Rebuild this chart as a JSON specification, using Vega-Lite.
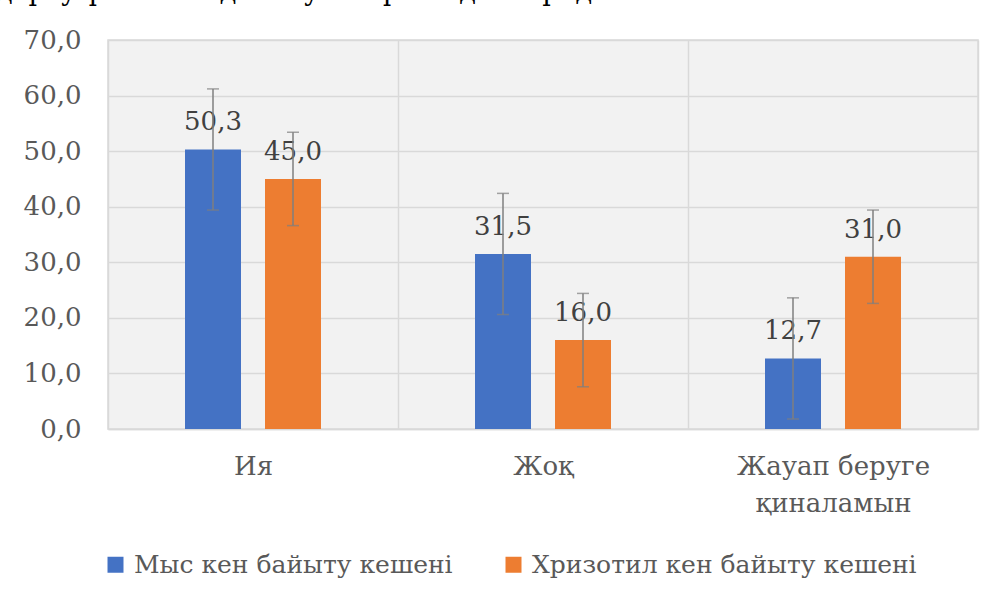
{
  "$schema": "https://vega.github.io/schema/vega-lite/v6.json",
  "width": 870,
  "height": 389,
  "autosize": {"type": "none"},
  "padding": {"left": 108, "top": 40, "right": 16, "bottom": 172},
  "background": "white",
  "title": {
    "text": "дерту үшін жандалануға мүмкіндік береді.",
    "anchor": "start",
    "frame": "group",
    "font": "DejaVu Serif",
    "fontSize": 27,
    "fontWeight": "normal",
    "color": "black",
    "baseline": "alphabetic",
    "offset": 0,
    "dx": -112,
    "dy": 0
  },
  "config": {
    "font": "DejaVu Serif",
    "locale": {"number": {"decimal": ",", "thousands": " ", "grouping": [3], "currency": ["", ""]}},
    "view": {"stroke": "#d9d9d9", "strokeWidth": 1.5, "fill": "#f2f2f2"}
  },
  "data": {
    "values": [
      {"cat": "Ия", "series": "Мыс кен байыту кешені", "value": 50.3, "lo": 39.4, "hi": 61.2},
      {"cat": "Ия", "series": "Хризотил кен байыту кешені", "value": 45.0, "lo": 36.6, "hi": 53.4},
      {"cat": "Жоқ", "series": "Мыс кен байыту кешені", "value": 31.5, "lo": 20.6, "hi": 42.4},
      {"cat": "Жоқ", "series": "Хризотил кен байыту кешені", "value": 16.0, "lo": 7.6, "hi": 24.4},
      {"cat": "Жауап беруге қиналамын", "series": "Мыс кен байыту кешені", "value": 12.7, "lo": 1.8, "hi": 23.6},
      {"cat": "Жауап беруге қиналамын", "series": "Хризотил кен байыту кешені", "value": 31.0, "lo": 22.6, "hi": 39.4}
    ]
  },
  "encoding": {
    "x": {
      "field": "cat",
      "type": "nominal",
      "sort": ["Ия", "Жоқ", "Жауап беруге қиналамын"],
      "scale": {"paddingInner": 0, "paddingOuter": 0},
      "axis": {
        "title": null,
        "labelAngle": 0,
        "labelFont": "DejaVu Serif",
        "labelFontSize": 26,
        "labelColor": "#595959",
        "labelPadding": 24,
        "labelLineHeight": 37,
        "labelLimit": 400,
        "labelExpr": "datum.label == 'Жауап беруге қиналамын' ? ['Жауап беруге', 'қиналамын'] : datum.label",
        "ticks": false,
        "tickBand": "extent",
        "grid": true,
        "gridColor": "#d9d9d9",
        "gridWidth": 1.5,
        "domain": true,
        "domainColor": "#d9d9d9",
        "domainWidth": 1.5
      }
    },
    "xOffset": {
      "field": "series",
      "type": "nominal",
      "sort": ["Мыс кен байыту кешені", "Хризотил кен байыту кешені"],
      "scale": {"paddingInner": 0.3, "paddingOuter": 0.9625}
    }
  },
  "layer": [
    {
      "mark": {"type": "bar"},
      "encoding": {
        "y": {
          "field": "value",
          "type": "quantitative",
          "scale": {"domain": [0, 70], "nice": false},
          "axis": {
            "title": null,
            "values": [0, 10, 20, 30, 40, 50, 60, 70],
            "format": ".1f",
            "labelFont": "DejaVu Serif",
            "labelFontSize": 26,
            "labelColor": "#595959",
            "labelPadding": 27,
            "ticks": false,
            "domain": false,
            "grid": true,
            "gridColor": "#d9d9d9",
            "gridWidth": 1.5
          }
        },
        "color": {
          "field": "series",
          "type": "nominal",
          "sort": ["Мыс кен байыту кешені", "Хризотил кен байыту кешені"],
          "scale": {"range": ["#4472C4", "#ED7D31"]},
          "legend": {
            "title": null,
            "orient": "none",
            "direction": "horizontal",
            "legendX": -5,
            "legendY": 512,
            "padding": 0,
            "symbolType": "square",
            "symbolSize": 256,
            "symbolStrokeWidth": 0,
            "labelFont": "DejaVu Serif",
            "labelFontSize": 25,
            "labelColor": "#595959",
            "labelOffset": 6,
            "columnPadding": 48,
            "labelLimit": 500
          }
        }
      }
    },
    {
      "mark": {"type": "text", "baseline": "alphabetic", "dy": -19, "font": "DejaVu Serif", "fontSize": 26, "color": "#404040"},
      "encoding": {
        "y": {"field": "value", "type": "quantitative"},
        "text": {"field": "value", "type": "quantitative", "format": ".1f"}
      }
    },
    {
      "mark": {"type": "rule", "color": "#7f7f7f", "strokeWidth": 1.5},
      "encoding": {
        "y": {"field": "lo", "type": "quantitative"},
        "y2": {"field": "hi"}
      }
    },
    {
      "mark": {"type": "tick", "color": "#7f7f7f", "thickness": 1.5, "size": 12, "orient": "horizontal"},
      "encoding": {"y": {"field": "lo", "type": "quantitative"}}
    },
    {
      "mark": {"type": "tick", "color": "#7f7f7f", "thickness": 1.5, "size": 12, "orient": "horizontal"},
      "encoding": {"y": {"field": "hi", "type": "quantitative"}}
    }
  ]
}
